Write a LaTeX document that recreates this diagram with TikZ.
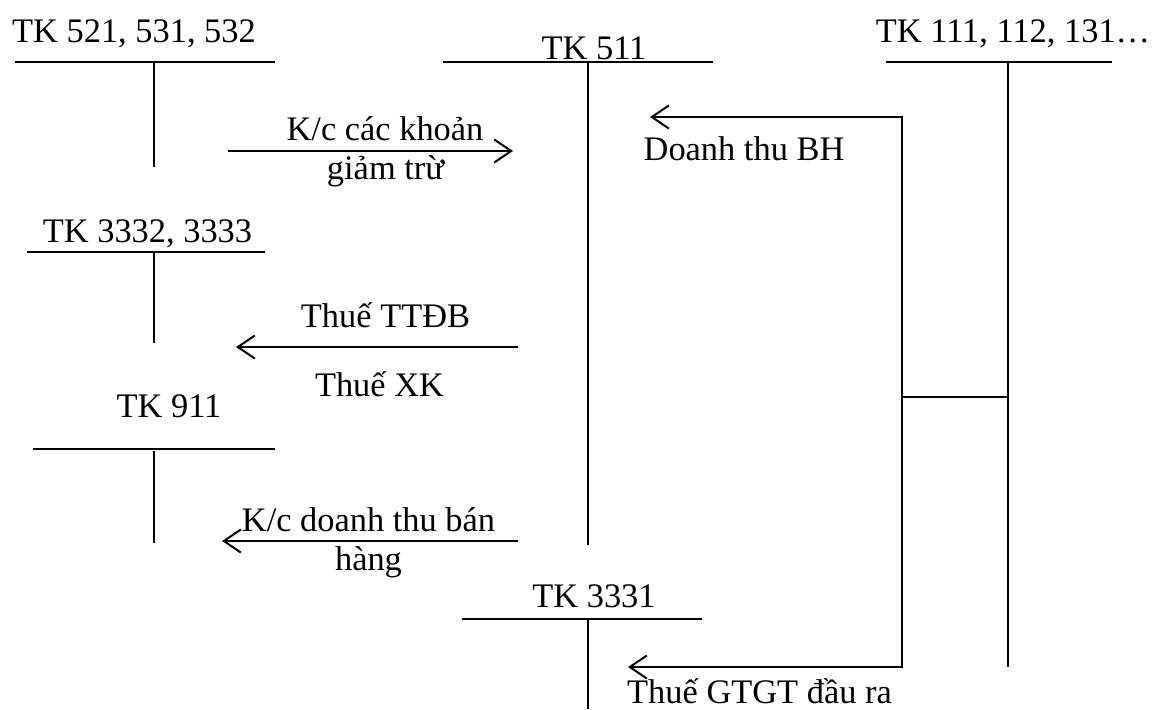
\documentclass[tikz,border=0pt]{standalone}
\usepackage{fontspec}
\setmainfont{Liberation Serif}
\usetikzlibrary{arrows.meta}
\begin{document}
\begin{tikzpicture}[x=0.5pt,y=-0.5pt,line width=1pt,
  lbl/.style={anchor=base,inner sep=0pt,font=\fontsize{17.2}{20}\selectfont},
  arr/.style={-{Straight Barb[length=8.5pt,width=11.5pt,line width=1pt]}}]
\useasboundingbox (0,0) rectangle (1154,709);
% T-account labels
\node[lbl] (n521) at (134,42) {TK 521, 531, 532};
\node[lbl] (n511) at (594,59) {TK 511};
\node[lbl] (n111) at (1013,42) {TK 111, 112, 131…};
\node[lbl] (n3332) at (147.5,242) {TK 3332, 3333};
\node[lbl] (n911) at (169,417) {TK 911};
\node[lbl] (n3331) at (594,607) {TK 3331};
% T-account geometry
\coordinate (a521l) at (15,62);  \coordinate (a521r) at (275,62);
\coordinate (a521t) at (154,62); \coordinate (a521b) at (154,167);
\coordinate (a511l) at (443,62); \coordinate (a511r) at (713,62);
\coordinate (a511t) at (588,62); \coordinate (a511b) at (588,545);
\coordinate (a111l) at (886,62); \coordinate (a111r) at (1112,62);
\coordinate (a111t) at (1008,62); \coordinate (a111b) at (1008,667);
\coordinate (a3332l) at (27,252); \coordinate (a3332r) at (265,252);
\coordinate (a3332t) at (154,252); \coordinate (a3332b) at (154,343);
\coordinate (a911l) at (33,449); \coordinate (a911r) at (275,449);
\coordinate (a911t) at (154,451); \coordinate (a911b) at (154,543);
\coordinate (a3331l) at (462,619); \coordinate (a3331r) at (702,619);
\coordinate (a3331t) at (588,619); \coordinate (a3331b) at (588,709);
\foreach \a in {521,511,111,3332,911,3331}{
  \draw (a\a l) -- (a\a r);
  \draw (a\a t) -- (a\a b);
}
% arrow end points
\coordinate (kcS) at (228,151); \coordinate (kcE) at (513,151);
\coordinate (ttS) at (518,347); \coordinate (ttE) at (236,347);
\coordinate (dtS) at (518,541); \coordinate (dtE) at (222,541);
\coordinate (j111) at (1008,397); \coordinate (jbr) at (902,397);
\coordinate (bhE) at (650,117); \coordinate (gtE) at (628,667);
\draw[arr] (kcS) -- (kcE);
\draw[arr] (ttS) -- (ttE);
\draw[arr] (dtS) -- (dtE);
\draw (j111) -- (jbr);
\draw[arr] (jbr) |- (bhE);
\draw[arr] (jbr) |- (gtE);
% arrow labels
\node[lbl] (l1a) at (385,140) {K/c các khoản};
\node[lbl] (l1b) at (385.5,179) {giảm trừ};
\node[lbl] (l2) at (744,160) {Doanh thu BH};
\node[lbl] (l3a) at (385.5,327) {Thuế TTĐB};
\node[lbl] (l3b) at (379.5,396) {Thuế XK};
\node[lbl] (l4a) at (368.5,531) {K/c doanh thu bán};
\node[lbl] (l4b) at (368.5,570) {hàng};
\node[lbl] (l5) at (759.5,703) {Thuế GTGT đầu ra};
\end{tikzpicture}
\end{document}
